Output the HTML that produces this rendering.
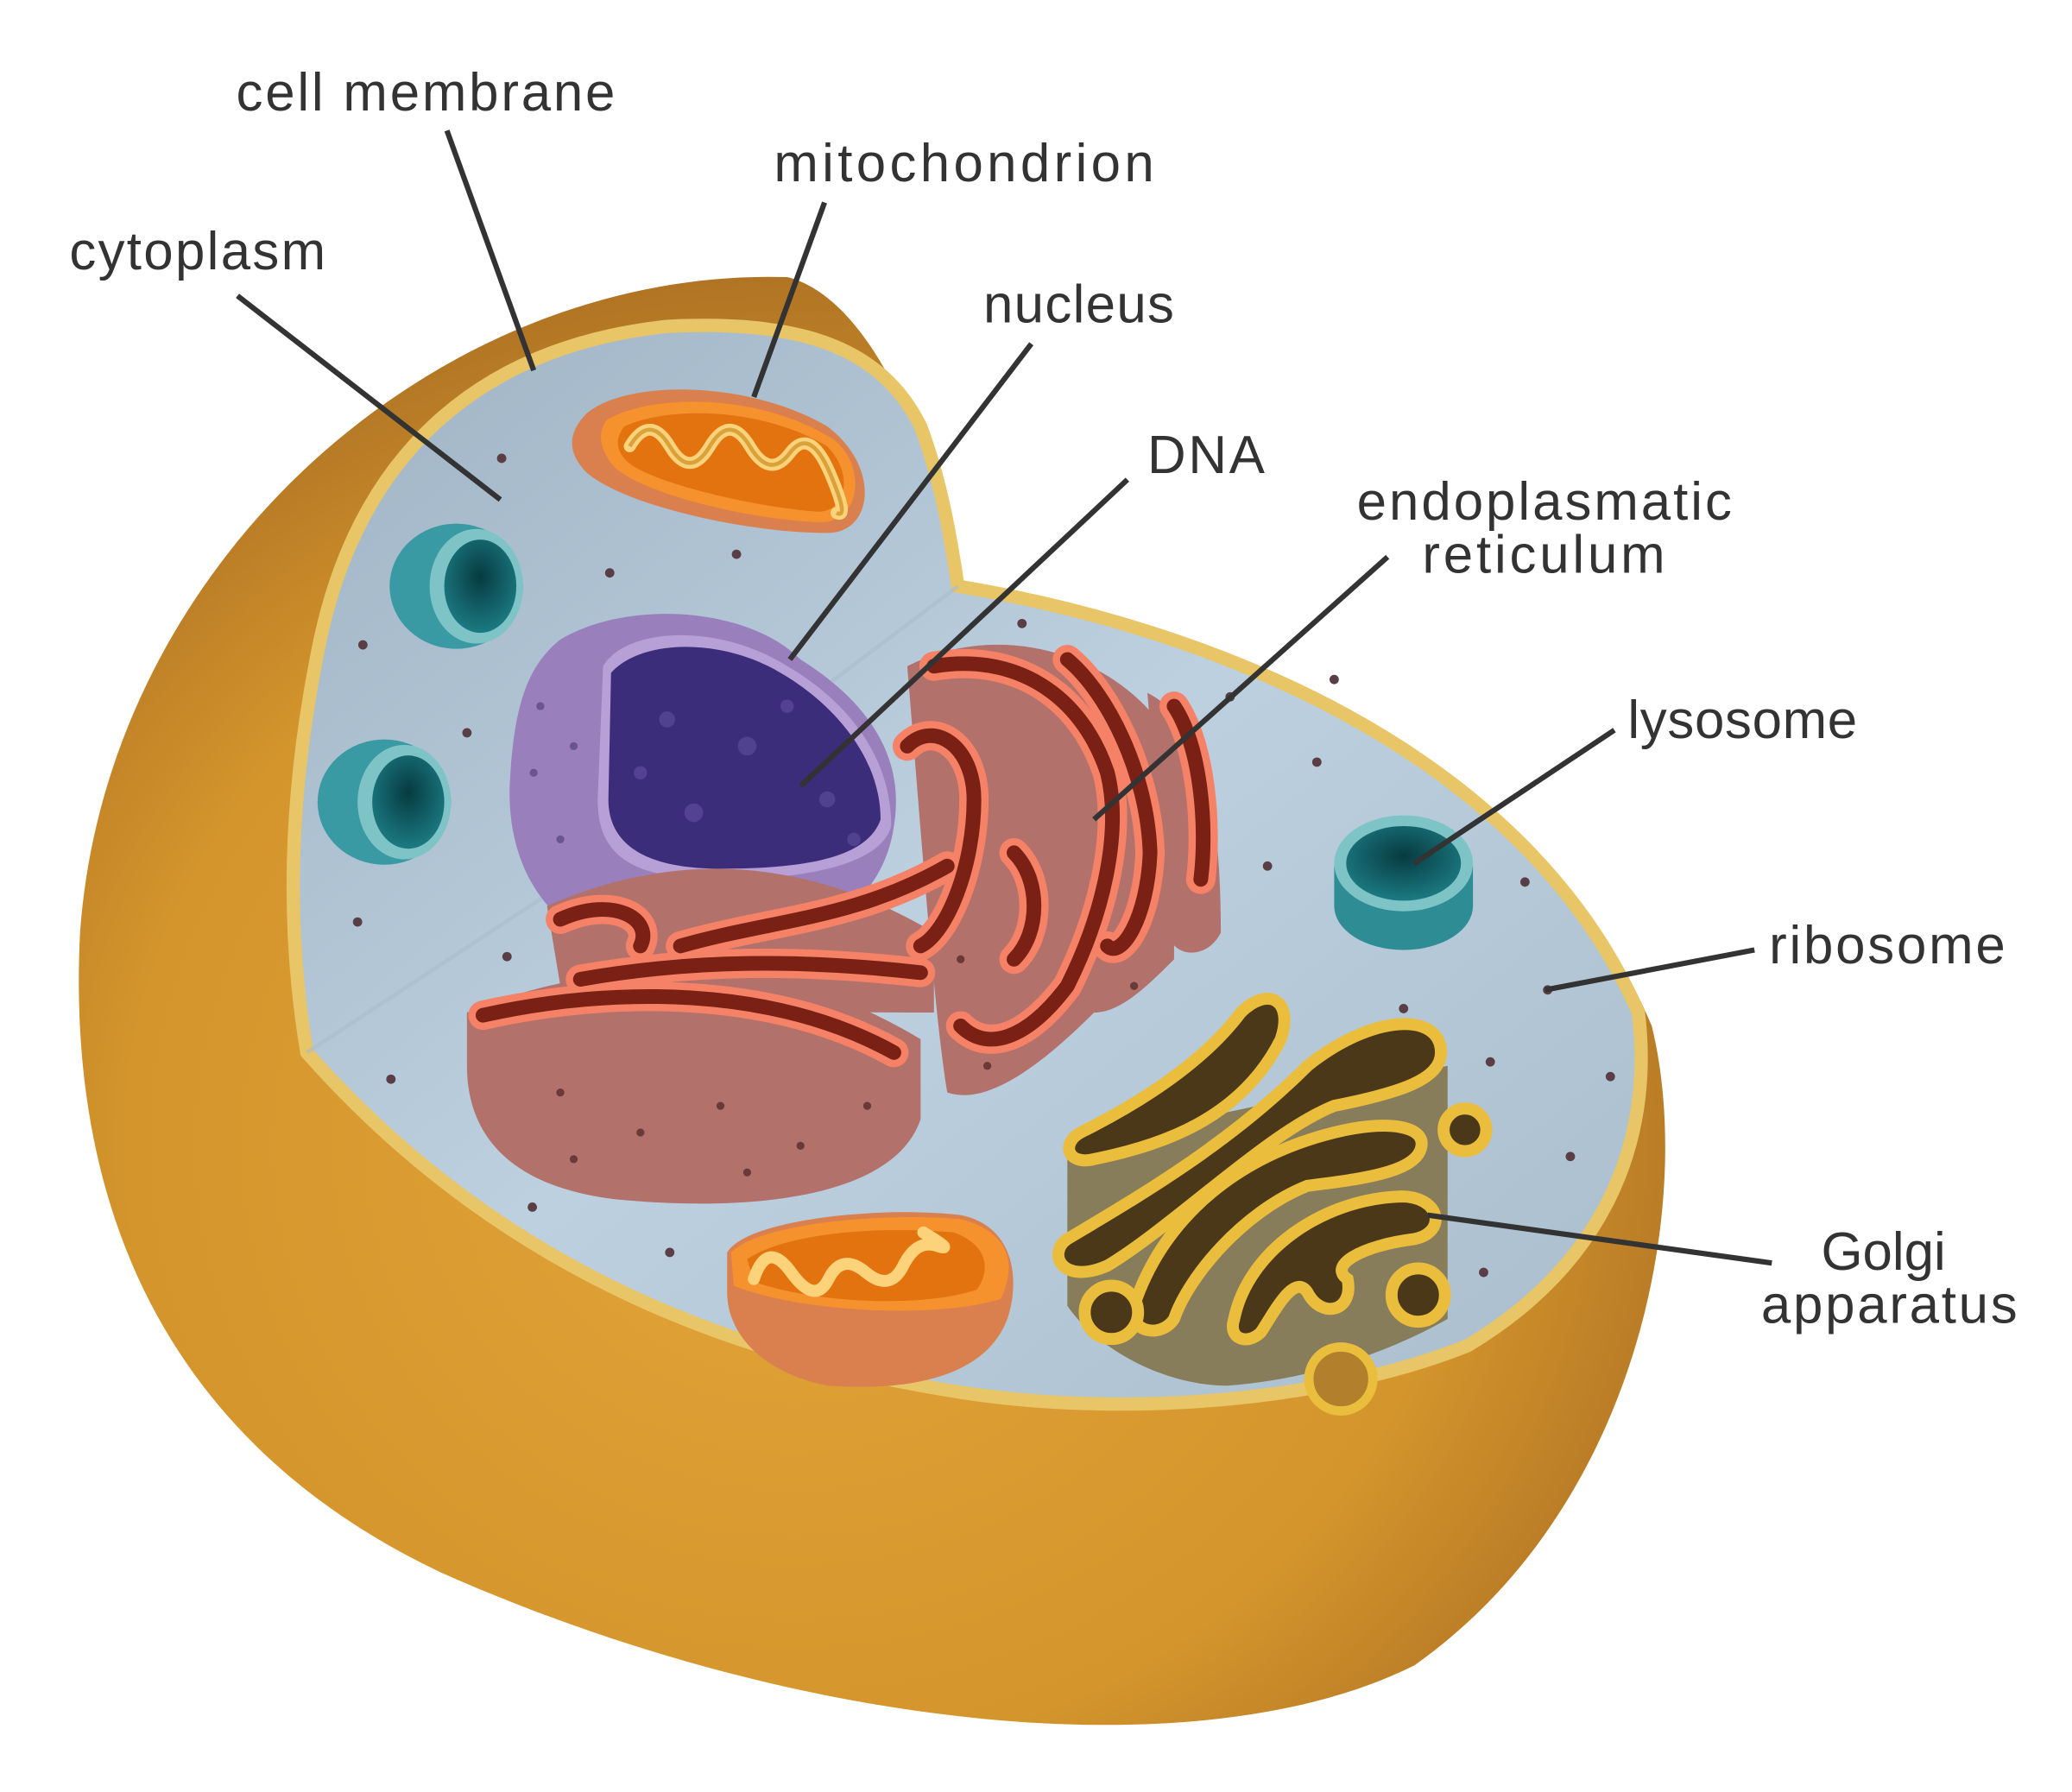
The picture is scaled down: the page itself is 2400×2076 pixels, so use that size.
<!DOCTYPE html>
<html><head><meta charset="utf-8"><style>
html,body{margin:0;padding:0;background:#fff;}
svg{display:block;}
text{font-family:"Liberation Sans",sans-serif;font-size:40px;fill:#333;}
</style></head><body>
<svg width="2400" height="2076" viewBox="0 0 1553 1345" preserveAspectRatio="none" xmlns="http://www.w3.org/2000/svg">
<defs>
<radialGradient id="body" cx="0.45" cy="0.6" r="0.6">
<stop offset="0" stop-color="#e3a53a"/><stop offset="0.7" stop-color="#d4952c"/><stop offset="1" stop-color="#b07424"/></radialGradient>
<linearGradient id="cyto" x1="0" y1="0" x2="1" y2="1">
<stop offset="0" stop-color="#9fb3c4"/><stop offset="0.5" stop-color="#bcd0e0"/><stop offset="1" stop-color="#a9bdcd"/></linearGradient>
<radialGradient id="lyso" cx="0.5" cy="0.4" r="0.6"><stop offset="0" stop-color="#063b40"/><stop offset="1" stop-color="#1c7a82"/></radialGradient>
</defs>
<path d="M590,208 C640,220 690,300 720,440 C900,470 1150,560 1238,770 C1270,900 1230,1130 1060,1250 C900,1330 600,1300 330,1180 C120,1080 50,900 60,700 C80,420 330,200 590,208 Z" fill="url(#body)"/>
<path d="M230,790 C215,700 215,600 240,480 C270,340 360,260 500,245 C600,240 660,260 690,320 C705,360 712,400 718,440 C900,470 1140,560 1228,760 C1240,860 1200,950 1100,1010 C1000,1050 850,1065 720,1045 C560,1020 380,960 230,790 Z" fill="url(#cyto)" stroke="#e8c566" stroke-width="10"/>
<path d="M230,790 L420,665 L718,440" fill="none" stroke="#a8bccb" stroke-width="3" opacity="0.6"/>
<g fill="#5a3e45">
<circle cx="376" cy="344" r="3.5"/><circle cx="552" cy="416" r="3.5"/><circle cx="457" cy="430" r="3.5"/><circle cx="272" cy="484" r="3.5"/><circle cx="350" cy="550" r="3.5"/><circle cx="268" cy="692" r="3.5"/><circle cx="380" cy="718" r="3.5"/><circle cx="293" cy="810" r="3.5"/><circle cx="766" cy="468" r="3.5"/><circle cx="922" cy="523" r="3.5"/><circle cx="987" cy="572" r="3.5"/><circle cx="950" cy="650" r="3.5"/><circle cx="1143" cy="662" r="3.5"/><circle cx="1160" cy="743" r="3.5"/><circle cx="1117" cy="797" r="3.5"/><circle cx="1207" cy="808" r="3.5"/><circle cx="1177" cy="868" r="3.5"/><circle cx="1112" cy="955" r="3.5"/><circle cx="1052" cy="757" r="3.5"/><circle cx="399" cy="906" r="3.5"/><circle cx="502" cy="940" r="3.5"/><circle cx="1000" cy="510" r="3.5"/>
</g>
<g>
<ellipse cx="342" cy="440" rx="50" ry="47" fill="#3a9aa3"/><ellipse cx="357" cy="440" rx="35" ry="43" fill="#7ec3c6"/><ellipse cx="360" cy="440" rx="27" ry="35" fill="url(#lyso)"/>
<ellipse cx="288" cy="602" rx="50" ry="47" fill="#3a9aa3"/><ellipse cx="303" cy="602" rx="35" ry="43" fill="#7ec3c6"/><ellipse cx="306" cy="602" rx="27" ry="35" fill="url(#lyso)"/>
</g>
<ellipse cx="1052" cy="680" rx="52" ry="33" fill="#2e8c95"/>
<rect x="1000" y="650" width="104" height="30" fill="#2e8c95"/>
<ellipse cx="1052" cy="648" rx="52" ry="36" fill="#7ec3c6"/>
<ellipse cx="1052" cy="648" rx="43" ry="28" fill="url(#lyso)"/>
<path d="M440,310 C470,285 560,285 620,320 C660,350 655,400 620,400 C560,400 470,380 440,355 C425,340 425,325 440,310 Z" fill="#d9804e"/>
<path d="M455,315 C490,295 570,295 625,330 C650,350 645,392 615,392 C560,390 480,370 460,350 C450,338 447,325 455,315 Z" fill="#f6922e"/>
<path d="M468,320 C500,305 570,305 620,335 C640,355 635,385 612,384 C560,380 490,362 472,348 C462,340 460,330 468,320 Z" fill="#e2730f"/>
<path d="M472,335 q15,-25 30,0 t30,0 t30,0 t30,5 t30,15 t5,30" fill="none" stroke="#fcd27a" stroke-width="9" stroke-linecap="round"/>
<path d="M472,335 q15,-25 30,0 t30,0 t30,0 t30,5 t30,15 t5,30" fill="none" stroke="#d9a23a" stroke-width="3"/>
<path d="M545,940 C560,915 660,905 720,912 C760,920 765,960 755,990 C740,1030 690,1045 620,1040 C570,1030 545,1000 545,970 Z" fill="#d9804e"/>
<path d="M548,940 C570,918 660,910 720,915 C758,925 762,950 750,975 C700,990 600,985 550,965 Z" fill="#f6922e"/>
<path d="M560,945 C590,925 660,920 715,925 C742,935 742,955 732,968 C690,982 610,978 565,962 Z" fill="#e2730f"/>
<path d="M565,960 q10,-30 28,-5 t28,5 t28,-5 t28,-5 t25,-15 t-10,-10" fill="none" stroke="#fcd27a" stroke-width="9" stroke-linecap="round"/>
<path d="M420,480 C470,450 560,455 600,495 C640,520 680,560 670,620 C660,690 590,720 500,720 C420,715 380,660 382,590 C385,530 395,500 420,480 Z" fill="#9a7fbd"/>
<path d="M452,500 C470,470 540,468 590,500 C625,520 668,560 668,620 C660,650 600,660 540,660 C470,660 448,640 448,600 Z" fill="#b7a0d6"/>
<path d="M458,505 C480,480 540,478 585,505 C620,525 660,565 660,615 C650,645 600,652 540,652 C478,652 456,630 456,600 Z" fill="#3c2d7a"/>
<g fill="#6050a0" opacity="0.6"><circle cx="500" cy="540" r="6"/><circle cx="560" cy="560" r="7"/><circle cx="620" cy="600" r="6"/><circle cx="520" cy="610" r="7"/><circle cx="590" cy="530" r="5"/><circle cx="480" cy="580" r="5"/><circle cx="640" cy="630" r="5"/></g>
<g fill="#6b5590"><circle cx="400" cy="580" r="3"/><circle cx="420" cy="630" r="3"/><circle cx="405" cy="530" r="3"/><circle cx="430" cy="560" r="3"/><circle cx="440" cy="680" r="3"/></g>
<g>
<path d="M350,760 C420,730 560,700 690,780 L690,840 C670,900 560,910 460,900 C380,890 350,850 350,800 Z" fill="#b2716a"/>
<path d="M410,680 C500,640 600,640 700,700 L700,760 C640,760 520,760 420,740 Z" fill="#b2716a"/>
<path d="M680,500 C760,460 850,500 880,560 L880,720 C860,740 840,760 820,760 C780,800 740,830 710,820 C700,760 690,620 680,500 Z" fill="#b2716a"/>
<path d="M860,520 C900,540 915,600 915,700 C905,720 880,720 875,700 Z" fill="#b2716a"/>
<g fill="none" stroke="#f58266" stroke-width="22" stroke-linecap="round">
<path d="M362,762 C460,740 580,740 670,790"/>
<path d="M420,690 C460,672 490,690 480,710"/>
<path d="M435,735 C520,720 600,720 690,730"/>
<path d="M510,710 C580,690 640,690 710,650"/>
<path d="M700,500 C760,490 810,520 830,580 C840,620 830,680 800,740 C770,780 740,790 720,770"/>
<path d="M680,560 C700,540 730,560 730,600 C730,650 710,700 690,710"/>
<path d="M800,495 C830,520 860,580 862,640 C860,690 840,720 830,710"/>
<path d="M880,530 C900,560 905,620 900,660"/>
<path d="M760,640 C780,660 780,700 760,720"/>
</g>
<g fill="none" stroke="#7a2014" stroke-width="11" stroke-linecap="round">
<path d="M362,762 C460,740 580,740 670,790"/>
<path d="M420,690 C460,672 490,690 480,710"/>
<path d="M435,735 C520,720 600,720 690,730"/>
<path d="M510,710 C580,690 640,690 710,650"/>
<path d="M700,500 C760,490 810,520 830,580 C840,620 830,680 800,740 C770,780 740,790 720,770"/>
<path d="M680,560 C700,540 730,560 730,600 C730,650 710,700 690,710"/>
<path d="M800,495 C830,520 860,580 862,640 C860,690 840,720 830,710"/>
<path d="M880,530 C900,560 905,620 900,660"/>
<path d="M760,640 C780,660 780,700 760,720"/>
</g>
<g fill="#6a3a38"><circle cx="420" cy="820" r="3"/><circle cx="480" cy="850" r="3"/><circle cx="540" cy="830" r="3"/><circle cx="600" cy="860" r="3"/><circle cx="650" cy="830" r="3"/><circle cx="430" cy="870" r="3"/><circle cx="560" cy="880" r="3"/><circle cx="740" cy="800" r="3"/><circle cx="720" cy="720" r="3"/><circle cx="850" cy="740" r="3"/></g>
</g>
<path d="M800,860 L800,980 C820,1010 870,1040 920,1040 C990,1035 1050,1010 1085,990 L1085,800 Z" fill="#877d5a"/>
<g fill="#4a3818" stroke="#ebbd3c" stroke-width="9">
<path d="M810,850 C850,830 900,800 930,760 C950,740 970,750 960,780 C930,840 870,860 820,870 C800,875 795,858 810,850 Z"/>
<path d="M800,930 C850,900 920,860 980,800 C1030,760 1080,760 1080,790 C1080,810 1050,820 1000,830 C950,850 880,920 830,950 C795,965 785,940 800,930 Z"/>
<path d="M850,980 C870,920 920,870 1000,850 C1040,840 1070,845 1065,862 C1060,880 1020,885 980,890 C930,910 890,960 880,990 C870,1005 845,1000 850,980 Z"/>
<path d="M925,990 C935,940 990,900 1050,898 C1080,898 1085,925 1060,930 C1020,935 995,950 1010,960 C1015,985 990,990 980,970 C970,955 955,985 945,1000 C935,1010 920,1005 925,990 Z"/>
<circle cx="833" cy="985" r="20"/><circle cx="1063" cy="972" r="20"/><circle cx="1098" cy="848" r="16"/>
</g>
<circle cx="1005" cy="1035" r="24" fill="#b27f2c" stroke="#ebbd3c" stroke-width="7"/>
<g stroke="#333" stroke-width="4" fill="none">
<line x1="335" y1="98" x2="400" y2="278"/>
<line x1="618" y1="152" x2="565" y2="298"/>
<line x1="178" y1="222" x2="375" y2="375"/>
<line x1="773" y1="258" x2="592" y2="495"/>
<line x1="845" y1="360" x2="600" y2="590"/>
<line x1="1040" y1="418" x2="820" y2="615"/>
<line x1="1210" y1="548" x2="1060" y2="648"/>
<line x1="1315" y1="713" x2="1158" y2="743"/>
<line x1="1328" y1="948" x2="1070" y2="912"/>
</g>
<text x="177" y="83" textLength="284" lengthAdjust="spacing">cell membrane</text>
<text x="580" y="136" textLength="285" lengthAdjust="spacing">mitochondrion</text>
<text x="52" y="202" textLength="192" lengthAdjust="spacing">cytoplasm</text>
<text x="737" y="242" textLength="143" lengthAdjust="spacing">nucleus</text>
<text x="860" y="355" textLength="88" lengthAdjust="spacing">DNA</text>
<text x="1017" y="390" textLength="281" lengthAdjust="spacing">endoplasmatic</text>
<text x="1066" y="430" textLength="182" lengthAdjust="spacing">reticulum</text>
<text x="1220" y="554" textLength="172" lengthAdjust="spacing">lysosome</text>
<text x="1326" y="723" textLength="177" lengthAdjust="spacing">ribosome</text>
<text x="1365" y="953">Golgi</text>
<text x="1320" y="993" textLength="192" lengthAdjust="spacing">apparatus</text>
</svg>
</body></html>
